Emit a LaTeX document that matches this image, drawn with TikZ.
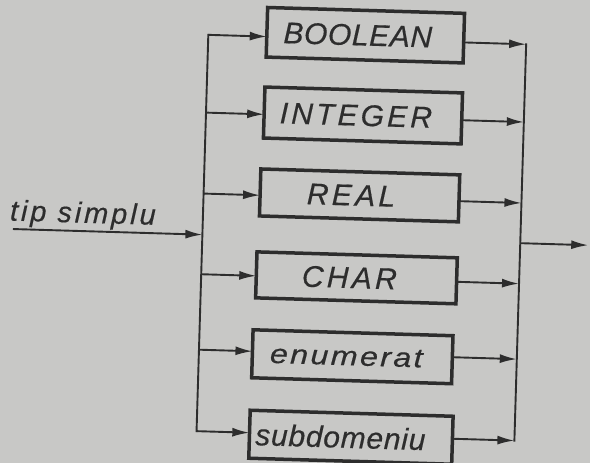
\documentclass[tikz,border=0pt]{standalone}
\usepackage{fontspec}
\setmainfont{Liberation Sans}
\usetikzlibrary{arrows.meta}
\definecolor{paper}{RGB}{200,200,198}
\definecolor{ink}{RGB}{45,45,45}
\newcommand{\lsp}[3]{{\fontsize{#1}{#1}\selectfont\itshape\addfontfeature{LetterSpace=#2,FakeBold=0.4}#3}}
\begin{document}
\begin{tikzpicture}[x=1pt,y=-1pt,
  conn/.style={draw=ink,line width=1.9pt},
  arr/.style={conn,-{Latex[length=17pt,width=9pt]}},
  bus/.style={conn,line cap=rect},
  stepbox/.style={draw=ink,line width=3.5pt,rectangle,inner sep=0pt,text=ink},
  lbl/.style={inner sep=0pt,text=ink}]
\fill[paper] (0,0) rectangle (590,463);
\useasboundingbox (0,0) rectangle (590,463);
\begin{scope}[rotate around={-1.7:(295,232)},transform shape]
  % boxes
  \node[stepbox,minimum width=197pt,minimum height=49.6pt] (bool) at (359.5,33.2) {\lsp{30}{2}{BOOLEAN}\kern15pt};
  \node[stepbox,minimum width=197.7pt,minimum height=51pt] (int) at (359.5,113.5) {\lsp{30}{10.5}{INTEGER}\kern14pt};
  \node[stepbox,minimum width=199pt,minimum height=47pt] (real) at (358.5,193.5) {\lsp{30}{11}{REAL}\kern17pt};
  \node[stepbox,minimum width=200.4pt,minimum height=46pt] (char) at (357.8,276) {\lsp{30}{11}{CHAR}\kern14pt};
  \node[stepbox,minimum width=200pt,minimum height=48pt] (enum) at (356,355) {\scalebox{1.2}[1]{\lsp{27}{7}{enumerat}}\kern12pt};
  \node[stepbox,minimum width=203pt,minimum height=48pt] (subd) at (357,435.5) {\lsp{30}{2.5}{subdomeniu}\kern21pt};
  % label
  \node[lbl,anchor=base] (tip) at (82.5,229) {\lsp{29}{10}{tip simplu}};
  % bus points
  \coordinate (in0) at (13,237.4);
  \coordinate (lin) at (202.5,237.4);
  \coordinate (l1) at (202.5,37.5);
  \coordinate (l2) at (202.5,115.3);
  \coordinate (l3) at (202.5,196.3);
  \coordinate (l4) at (202.5,277);
  \coordinate (l5) at (202.5,352.5);
  \coordinate (l6) at (202.5,434);
  \coordinate (r1) at (520.5,37.5);
  \coordinate (r2) at (520.5,115.3);
  \coordinate (r3) at (520.5,196.3);
  \coordinate (r4) at (520.5,277);
  \coordinate (r5) at (520.5,352.5);
  \coordinate (r6) at (520.5,434);
  \coordinate (rout) at (520.5,236.5);
  \coordinate (out) at (588.5,236.5);
  % box edge points
  \coordinate (b1w) at (261,37.5);   \coordinate (b1e) at (458,37.5);
  \coordinate (b2w) at (260.7,115.3);\coordinate (b2e) at (458.4,115.3);
  \coordinate (b3w) at (259,196.3);  \coordinate (b3e) at (458,196.3);
  \coordinate (b4w) at (257.6,277);  \coordinate (b4e) at (458,277);
  \coordinate (b5w) at (256,352.5);  \coordinate (b5e) at (456,352.5);
  \coordinate (b6w) at (255.3,434);  \coordinate (b6e) at (458.5,434);
  % buses
  \draw[bus] (l1) -- (l6);
  \draw[bus] (r1) -- (r6);
  % input and output
  \draw[arr] (in0) -- (lin);
  \draw[arr] (rout) -- (out);
  % branches
  \draw[arr] (l1) -- (b1w);
  \draw[arr] (l2) -- (b2w);
  \draw[arr] (l3) -- (b3w);
  \draw[arr] (l4) -- (b4w);
  \draw[arr] (l5) -- (b5w);
  \draw[arr] (l6) -- (b6w);
  \draw[arr] (b1e) -- (r1);
  \draw[arr] (b2e) -- (r2);
  \draw[arr] (b3e) -- (r3);
  \draw[arr] (b4e) -- (r4);
  \draw[arr] (b5e) -- (r5);
  \draw[arr] (b6e) -- (r6);
\end{scope}
\end{tikzpicture}
\end{document}
